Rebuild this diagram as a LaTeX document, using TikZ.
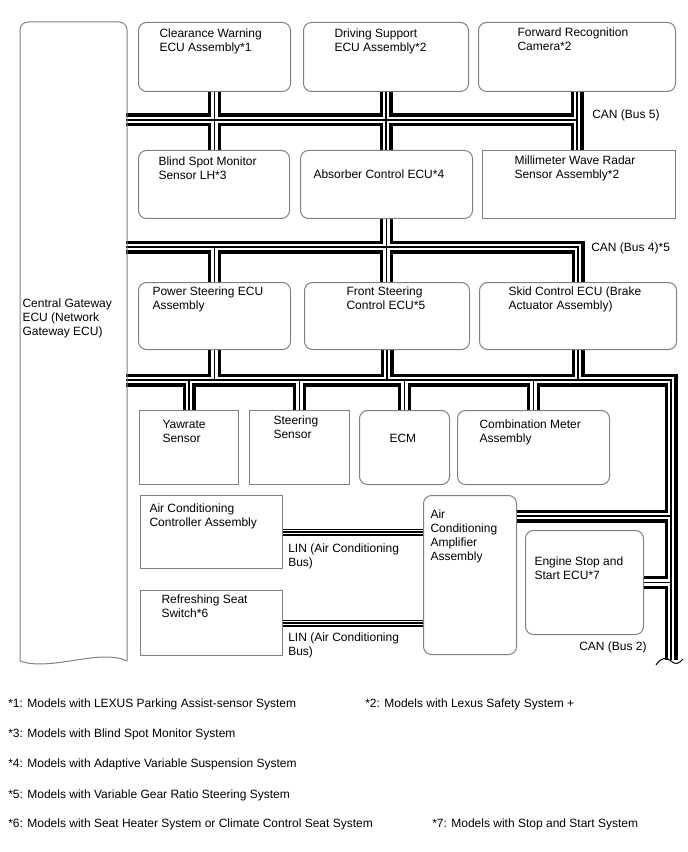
\documentclass[tikz,border=0pt]{standalone}
\usepackage{fontspec}
\setmainfont{Liberation Sans}
\usetikzlibrary{calc}
\pgfdeclarelayer{background}
\pgfsetlayers{background,main}
\newdimen\pxu
\pxu=0.75pt
% box text: width, height, left offset, top offset, text
\newcommand{\ecutext}[5]{\parbox[c][#2\pxu][t]{#1\pxu}{\vspace*{#4\pxu}\raggedright\leftskip=#3\pxu\relax #5\par}}

\begin{document}
\begin{tikzpicture}[x=0.75pt, y=-0.75pt,
    ecuRound/.style={rectangle, rounded corners=6pt, draw=black!50, line width=0.75pt, fill=white, anchor=north west, inner sep=0pt, font=\fontsize{9pt}{10.5pt}\selectfont},
    ecuSquare/.style={ecuRound, sharp corners},
    boxLine/.style={draw=black!50, line width=0.75pt},
    busLabel/.style={inner sep=0pt, font=\fontsize{9pt}{10.5pt}\selectfont},
    canOuter/.style={line width=9.75pt, draw=black},
    canInner/.style={line width=5pt, draw=white},
    canCore/.style={line width=1.2pt, draw=black},
    linOuter/.style={line width=5.25pt, draw=black},
    linInner/.style={line width=3pt, draw=white},
    linCore/.style={line width=1.8pt, draw=black}
]
    \useasboundingbox (0,0) rectangle (688,852);

    % Gateway
    \node[ecuRound, draw=none, fill=none] (gateway) at (20,22) {\ecutext{106}{638}{2}{276}{Central Gateway\\ECU (Network\\Gateway ECU)}};
    \draw[boxLine, rounded corners=6pt] (gateway.south west) |- (gateway.north) -| (gateway.south east);
    \draw[boxLine] (gateway.south east) .. controls (100,648) and (50,672) .. (gateway.south west);

    % Top row
    \node[ecuRound] (clearance) at (138,22) {\ecutext{152}{69}{21}{6}{Clearance Warning\\ECU Assembly*1}};
    \node[ecuRound] (driving) at (303,22) {\ecutext{165}{69}{31}{6}{Driving Support\\ECU Assembly*2}};
    \node[ecuRound] (camera) at (478,22) {\ecutext{197}{69}{39}{5}{Forward Recognition\\Camera*2}};

    % Second row
    \node[ecuRound] (blind) at (138,150) {\ecutext{151}{68}{20}{6}{Blind Spot Monitor\\Sensor LH*3}};
    \node[ecuRound] (absorber) at (300,150) {\ecutext{172}{68}{13}{19}{Absorber Control ECU*4}};
    \node[ecuSquare] (radar) at (482,150) {\ecutext{193}{68}{32}{5}{Millimeter Wave Radar\\Sensor Assembly*2}};

    % Third row
    \node[ecuRound] (power) at (138,282) {\ecutext{152}{67}{14}{4}{Power Steering ECU\\Assembly}};
    \node[ecuRound] (front) at (304,282) {\ecutext{165}{67}{42}{4}{Front Steering\\Control ECU*5}};
    \node[ecuRound] (skid) at (479,282) {\ecutext{197}{67}{29}{4}{Skid Control ECU (Brake\\Actuator Assembly)}};

    % Sensors and meters
    \node[ecuSquare] (yaw) at (139,410) {\ecutext{99}{74}{23}{10}{Yawrate\\Sensor}};
    \node[ecuSquare] (steer) at (249,410) {\ecutext{100}{74}{24}{5}{Steering\\Sensor}};
    \node[ecuRound] (ecm) at (359,410) {\ecutext{90}{74}{30}{24}{ECM}};
    \node[ecuRound] (meter) at (457,410) {\ecutext{152}{74}{22}{9}{Combination Meter\\Assembly}};

    % Air conditioning
    \node[ecuSquare] (acctrl) at (140,495) {\ecutext{142}{73}{9}{8}{Air Conditioning\\Controller Assembly}};
    \node[ecuSquare] (seat) at (140,590) {\ecutext{142}{65}{21}{4}{Refreshing Seat\\Switch*6}};
    \node[ecuRound] (amplifier) at (423,495) {\ecutext{93}{159}{7}{14}{Air\\Conditioning\\Amplifier\\Assembly}};
    \node[ecuRound] (engine) at (525,530) {\ecutext{118}{104}{9}{26}{Engine Stop and\\Start ECU*7}};

    % Bus ends
    \coordinate (bus5) at (126,120);
    \coordinate (bus4) at (126,247);
    \coordinate (bus2) at (126,380);
    \coordinate (bus2end) at (671,660);
    \coordinate (ampTap) at ($(amplifier.north east)+(0,21)$);

    \def\canlines{
        (bus5) -- (bus5 -| camera.south)
        (camera.south) -- (camera.south |- radar.north)
        (clearance.south) -- (clearance.south |- blind.north)
        (driving.south) -- (driving.south |- absorber.north)
        (bus4) -| (skid.north)
        (power.north) -- (power.north |- bus4)
        (absorber.south) -- (absorber.south |- front.north)
        (bus2) -| (bus2end)
        (power.south) -- (power.south |- bus2)
        (yaw.north) -- (yaw.north |- bus2)
        (steer.north) -- (steer.north |- bus2)
        (front.south) -- (front.south |- bus2)
        (ecm.north) -- (ecm.north |- bus2)
        (meter.north) -- (meter.north |- bus2)
        (skid.south) -- (skid.south |- bus2)
        (ampTap) -- (ampTap -| bus2end)
        (engine.east) -- (engine.east -| bus2end)
    }
    \def\linlines{
        (acctrl.east) -- (acctrl.east -| amplifier.west)
        (seat.east) -- (seat.east -| amplifier.west)
    }

    \begin{pgfonlayer}{background}
        \foreach \pass in {canOuter, canInner, canCore}
            \draw[\pass] \canlines;
        \foreach \pass in {linOuter, linInner, linCore}
            \draw[\pass] \linlines;
    \end{pgfonlayer}
    \draw[line width=0.75pt] (656,665) .. controls (661,657) and (667,657) .. (671,661) .. controls (675,665) and (679,664) .. (683,659);

    % Bus labels
    \node[busLabel, anchor=base west] (bus5Label) at (592,119) {CAN (Bus 5)};
    \node[busLabel, anchor=base west] (bus4Label) at (591,252) {CAN (Bus 4)*5};
    \node[busLabel, anchor=base west] (bus2Label) at (579,650) {CAN (Bus 2)};
    \node[busLabel, anchor=north west, align=left] (lin1Label) at (288,544) {LIN (Air Conditioning\\Bus)};
    \node[busLabel, anchor=north west, align=left] (lin2Label) at (288,633) {LIN (Air Conditioning\\Bus)};

    % Notes
    \node[busLabel, anchor=base west] (note1) at (8,707) {*1: Models with LEXUS Parking Assist-sensor System};
    \node[busLabel, anchor=base west] (note2) at (365,707) {*2: Models with Lexus Safety System +};
    \node[busLabel, anchor=base west] (note3) at (8,737) {*3: Models with Blind Spot Monitor System};
    \node[busLabel, anchor=base west] (note4) at (8,767) {*4: Models with Adaptive Variable Suspension System};
    \node[busLabel, anchor=base west] (note5) at (8,798) {*5: Models with Variable Gear Ratio Steering System};
    \node[busLabel, anchor=base west] (note6) at (8,827) {*6: Models with Seat Heater System or Climate Control Seat System};
    \node[busLabel, anchor=base west] (note7) at (432,827) {*7: Models with Stop and Start System};
\end{tikzpicture}
\end{document}
